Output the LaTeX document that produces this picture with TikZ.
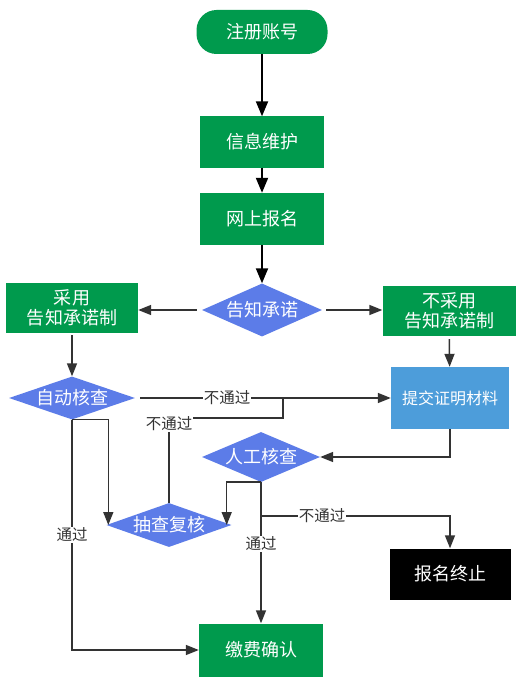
\documentclass[tikz,border=0pt]{standalone}
\usepackage{fontspec}
\setmainfont{Noto Sans CJK SC}
\usetikzlibrary{shapes.geometric,arrows.meta}
\definecolor{gr}{RGB}{0,154,77}
\definecolor{dia}{RGB}{92,124,232}
\definecolor{lb}{RGB}{77,157,218}
\definecolor{ln}{RGB}{51,51,51}
\tikzset{
  box/.style={rectangle, fill=gr, text=white, inner sep=0pt, font=\fontsize{18}{21}\selectfont, align=center},
  dmd/.style={diamond, fill=dia, text=white, inner sep=0pt, shape aspect=2.6, font=\fontsize{18}{21}\selectfont},
  blk/.style={line width=2pt, black, -{Triangle[length=15pt,width=12pt]}},
  gry/.style={line width=1.5pt, ln, -{Triangle[length=13pt,width=10pt]}},
  gryn/.style={line width=1.5pt, ln},
  lbl/.style={fill=white, text=ln, inner sep=1pt, font=\fontsize{15.5}{17}\selectfont}
}
\begin{document}
\begin{tikzpicture}[x=1pt,y=-1pt]
\useasboundingbox (0,0) rectangle (525,682);
\fill[white] (0,0) rectangle (525,682);
% nodes
\node[box, rounded corners=20pt, minimum width=131pt, minimum height=44pt] (reg) at (262,32) {注册账号};
\node[box, minimum width=124pt, minimum height=51pt] (info) at (262,142) {信息维护};
\node[box, minimum width=124pt, minimum height=52pt] (net) at (262,219) {网上报名};
\node[dmd, minimum width=120pt, minimum height=53pt] (gz) at (262,310) {告知承诺};
\node[box, minimum width=132pt, minimum height=50pt, font=\fontsize{18}{20}\selectfont] (cy) at (72,308) {采用\\告知承诺制};
\node[box, minimum width=133pt, minimum height=50pt, font=\fontsize{18}{20}\selectfont] (bcy) at (449,311) {不采用\\告知承诺制};
\node[dmd, minimum width=126pt, minimum height=43pt, shape aspect=3] (zd) at (72,398) {自动核查};
\node[box, fill=lb, minimum width=118pt, minimum height=62pt, font=\fontsize{16}{19}\selectfont] (tj) at (450,398) {提交证明材料};
\node[dmd, minimum width=118pt, minimum height=50pt] (rg) at (261,457) {人工核查};
\node[dmd, minimum width=125pt, minimum height=44pt, shape aspect=3] (cc) at (169,525) {抽查复核};
\node[box, fill=black, minimum width=121pt, minimum height=51pt] (zz) at (450,574) {报名终止};
\node[box, minimum width=124pt, minimum height=53pt] (jf) at (261,650) {缴费确认};
% connectors
\draw[blk] (reg) -- (info);
\draw[blk] (info) -- (net);
\draw[blk] (net) -- (gz);
\draw[gry, shorten <=5pt] (gz.west) -- (gz.west -| cy.east);
\draw[gry, shorten <=4pt] (gz.east) -- (gz.east -| bcy.west);
\draw[gry, shorten <=2pt] (cy) -- (zd);
\draw[gry, shorten <=3pt] (bcy) -- (tj);
\draw[gry, shorten <=5pt] (zd.east) -- (tj.west) node[lbl, pos=0.36] {不通过};
\coordinate (j1) at (283,418);
\draw[gryn] (cc.north) -- (cc.north |- j1) -- (j1) -- (j1 |- tj.west);
\node[lbl] (l2) at (169,424) {不通过};
\draw[gry] (zd.south) -- (zd.south |- jf.west) -- (jf.west);
\node[lbl] (l3) at (72,535) {通过};
\draw[gry] (zd.south) -| ([xshift=2pt]cc.west);
\draw[gry] (tj.south) |- (rg.east);
\draw[gry] (rg.south) -- (jf.north);
\node[lbl] (l4) at (261,544) {通过};
\draw[gry] (rg.south) -| ([xshift=-5pt]cc.east);
\coordinate (br) at (261,516);
\draw[gry] (br) -| (zz.north);
\node[lbl] (l5) at (322,516) {不通过};
\end{tikzpicture}
\end{document}
